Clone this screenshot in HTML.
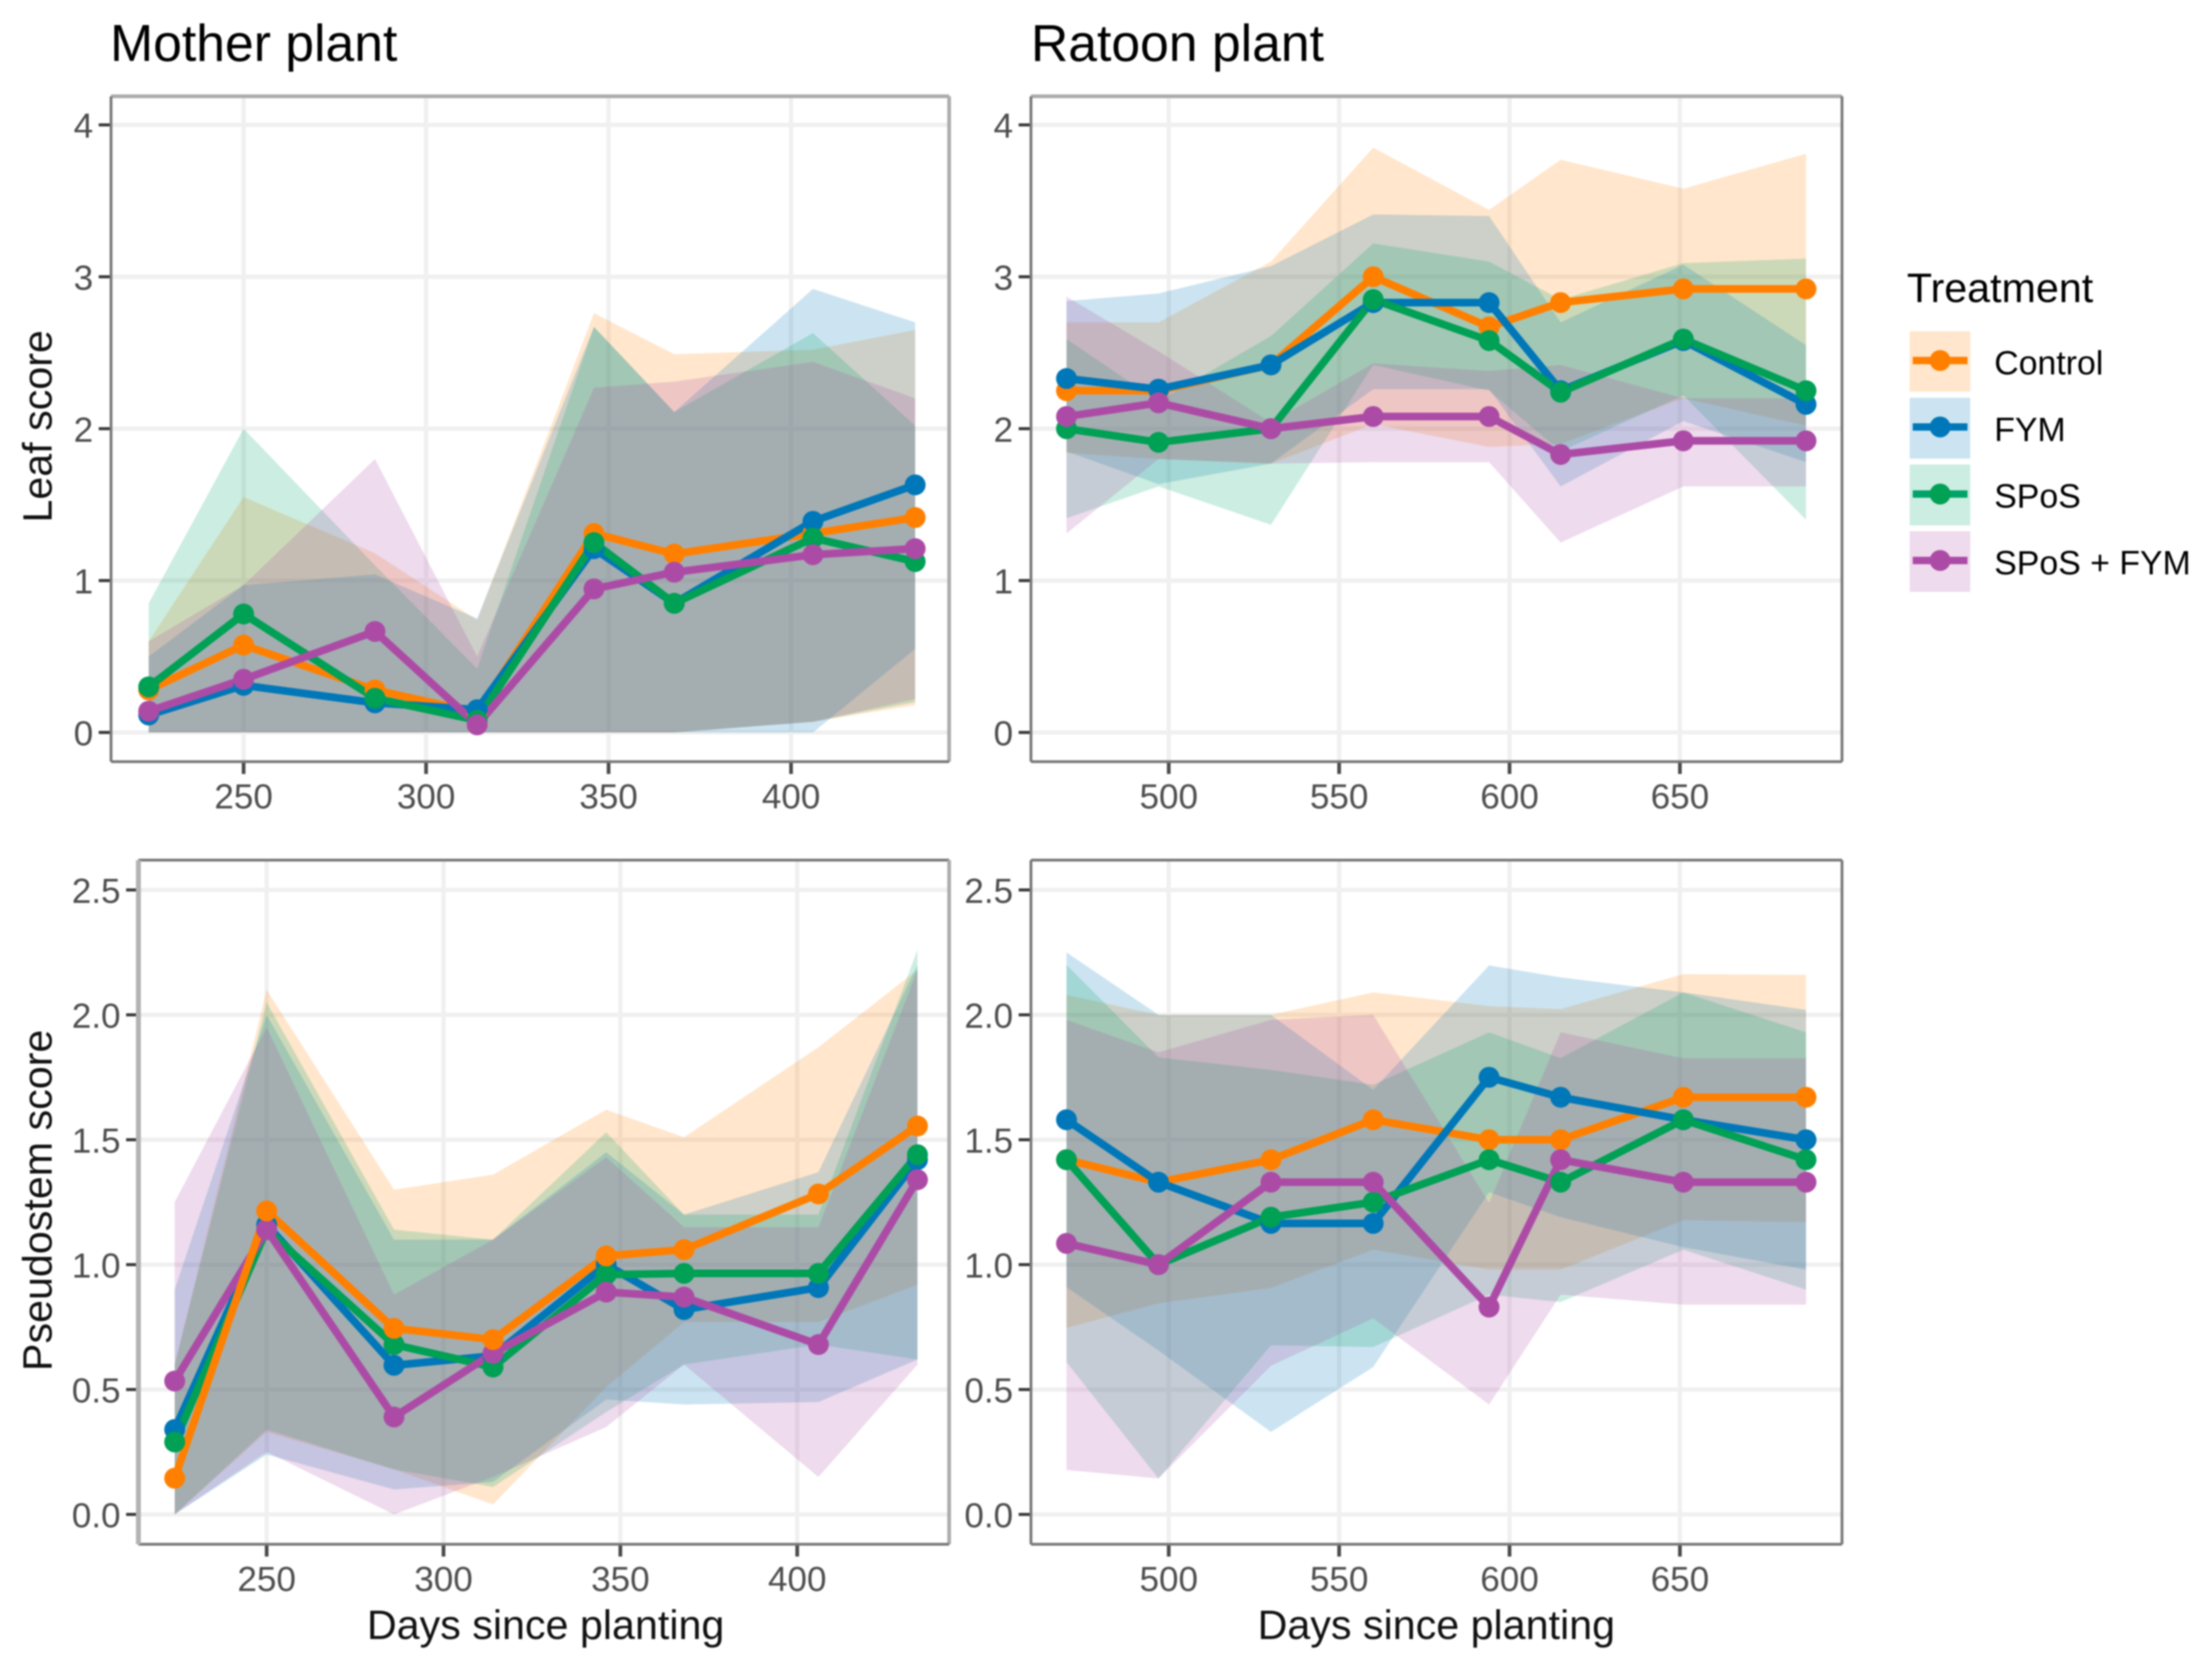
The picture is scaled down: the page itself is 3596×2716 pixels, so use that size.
<!DOCTYPE html>
<html lang="en">
<head>
<meta charset="utf-8">
<title>Leaf and pseudostem score by treatment</title>
<style>
html,body{margin:0;padding:0;background:#fff;}
svg{display:block;filter:blur(1.3px);}
text{font-family:"Liberation Sans",sans-serif;}
.tick{font-size:57px;fill:#4d4d4d;}
.atitle{font-size:67px;fill:#111;}
.ptitle{font-size:84px;fill:#000;}
.legtitle{font-size:67px;fill:#000;}
.leglabel{font-size:55px;fill:#000;}
</style>
</head>
<body>
<svg id="chart" xmlns="http://www.w3.org/2000/svg" width="3596" height="2716" viewBox="0 0 3596 2716">
  <rect x="0" y="0" width="3596" height="2716" fill="#ffffff"/>
  <text class="ptitle" x="179" y="99">Mother plant</text>
  <text class="ptitle" x="1676" y="99">Ratoon plant</text>
  <text class="atitle" text-anchor="middle" transform="translate(84,693) rotate(-90)">Leaf score</text>
  <text class="atitle" text-anchor="middle" transform="translate(84,1951) rotate(-90)">Pseudostem score</text>
  <text class="atitle" text-anchor="middle" x="887" y="2664">Days since planting</text>
  <text class="atitle" text-anchor="middle" x="2335" y="2664">Days since planting</text>
  <g id="panels"></g>
  <g>
    <text class="legtitle" x="3100" y="491">Treatment</text>
    <g>
      <rect x="3104.5" y="538.5" width="98.5" height="98" fill="#FF8000" fill-opacity="0.2"/>
      <line x1="3109.5" x2="3198.5" y1="586" y2="586" stroke="#FF8000" stroke-width="12"/>
      <circle cx="3154" cy="586" r="17" fill="#FF8000"/>
      <text class="leglabel" x="3242" y="608.5">Control</text>
    </g>
    <g>
      <rect x="3104.5" y="646.5" width="98.5" height="99" fill="#0077B8" fill-opacity="0.2"/>
      <line x1="3109.5" x2="3198.5" y1="694" y2="694" stroke="#0077B8" stroke-width="12"/>
      <circle cx="3154" cy="694" r="17" fill="#0077B8"/>
      <text class="leglabel" x="3242" y="717">FYM</text>
    </g>
    <g>
      <rect x="3104.5" y="755" width="98.5" height="99" fill="#00A368" fill-opacity="0.2"/>
      <line x1="3109.5" x2="3198.5" y1="803" y2="803" stroke="#00A368" stroke-width="12"/>
      <circle cx="3154" cy="803" r="17" fill="#00A055"/>
      <text class="leglabel" x="3242" y="825">SPoS</text>
    </g>
    <g>
      <rect x="3104.5" y="863.5" width="98.5" height="98.5" fill="#AC4BA6" fill-opacity="0.2"/>
      <line x1="3109.5" x2="3198.5" y1="911" y2="911" stroke="#AC4BA6" stroke-width="12"/>
      <circle cx="3154" cy="911" r="17" fill="#AC4BA6"/>
      <text class="leglabel" x="3242" y="933.5">SPoS + FYM</text>
    </g>
  </g>
</svg>
<script>
// Sampling days
const motherDays = [224, 250, 286, 314, 346, 368, 406, 434];
const ratoonDays = [470, 497, 530, 560, 594, 615, 651, 687];

// Tick labels
const motherXTicks = [250, 300, 350, 400];
const ratoonXTicks = [500, 550, 600, 650];
const leafYTicks = ["0", "1", "2", "3", "4"];
const pseudoYTicks = ["0.0", "0.5", "1.0", "1.5", "2.0", "2.5"];

// Treatments
const treatmentNames = ["control", "fym", "spos", "spos-fym"];

// Leaf score, mother plant
const leafMotherControlMean = [0.28, 0.575, 0.28, 0.13, 1.31, 1.175, 1.31, 1.415];
const leafMotherControlUpper = [0.6, 1.55, 1.18, 0.74, 2.76, 2.49, 2.52, 2.65];
const leafMotherControlLower = [0, 0, 0, 0, 0, 0, 0.07, 0.18];
const leafMotherFymMean = [0.115, 0.31, 0.195, 0.15, 1.21, 0.85, 1.39, 1.63];
const leafMotherFymUpper = [0.5, 0.97, 1.04, 0.75, 2.67, 2.11, 2.92, 2.7];
const leafMotherFymLower = [0, 0, 0, 0, 0, 0, 0, 0.55];
const leafMotherSposMean = [0.3, 0.78, 0.225, 0.08, 1.25, 0.85, 1.28, 1.125];
const leafMotherSposUpper = [0.85, 2.0, 1.1, 0.42, 2.67, 2.11, 2.63, 2.02];
const leafMotherSposLower = [0, 0, 0, 0, 0, 0, 0.07, 0.2];
const leafMotherComboMean = [0.14, 0.35, 0.665, 0.05, 0.945, 1.055, 1.17, 1.21];
const leafMotherComboUpper = [0.6, 0.97, 1.8, 0.5, 2.27, 2.31, 2.44, 2.2];
const leafMotherComboLower = [0, 0, 0, 0, 0, 0, 0.07, 0.22];

// Leaf score, ratoon plant
const leafRatoonControlMean = [2.25, 2.25, 2.42, 3.0, 2.67, 2.83, 2.92, 2.92];
const leafRatoonControlUpper = [2.7, 2.7, 3.1, 3.85, 3.44, 3.77, 3.58, 3.81];
const leafRatoonControlLower = [1.84, 1.8, 1.77, 2.03, 1.88, 1.9, 2.2, 2.02];
const leafRatoonFymMean = [2.33, 2.26, 2.42, 2.83, 2.83, 2.25, 2.58, 2.16];
const leafRatoonFymUpper = [2.84, 2.89, 3.07, 3.41, 3.4, 2.7, 3.08, 2.55];
const leafRatoonFymLower = [1.85, 1.635, 1.77, 2.26, 2.26, 1.62, 2.05, 1.78];
const leafRatoonSposMean = [2.0, 1.91, 2.0, 2.85, 2.58, 2.24, 2.59, 2.25];
const leafRatoonSposUpper = [2.59, 2.18, 2.61, 3.22, 3.1, 2.85, 3.09, 3.12];
const leafRatoonSposLower = [1.41, 1.62, 1.367, 2.42, 2.25, 1.85, 2.22, 1.4];
const leafRatoonComboMean = [2.08, 2.17, 2.0, 2.08, 2.08, 1.83, 1.92, 1.92];
const leafRatoonComboUpper = [2.87, 2.51, 2.04, 2.43, 2.38, 2.42, 2.2, 2.2];
const leafRatoonComboLower = [1.31, 1.8, 1.77, 1.78, 1.78, 1.25, 1.62, 1.62];

// Pseudostem score, mother plant
const pseudoMotherControlMean = [0.145, 1.215, 0.745, 0.7, 1.035, 1.06, 1.283, 1.555];
const pseudoMotherControlUpper = [0.6, 2.1, 1.3, 1.36, 1.62, 1.51, 1.87, 2.18];
const pseudoMotherControlLower = [0, 0.33, 0.18, 0.04, 0.51, 0.77, 0.77, 0.92];
const pseudoMotherFymMean = [0.34, 1.16, 0.597, 0.635, 1.0, 0.82, 0.908, 1.42];
const pseudoMotherFymUpper = [0.9, 2.0, 1.1, 1.1, 1.45, 1.2, 1.37, 2.2];
const pseudoMotherFymLower = [0, 0.24, 0.1, 0.13, 0.46, 0.44, 0.45, 0.62];
const pseudoMotherSposMean = [0.29, 1.14, 0.68, 0.59, 0.96, 0.965, 0.965, 1.44];
const pseudoMotherSposUpper = [0.6, 2.05, 1.14, 1.1, 1.53, 1.2, 1.2, 2.26];
const pseudoMotherSposLower = [0, 0.34, 0.18, 0.11, 0.41, 0.6, 0.68, 0.62];
const pseudoMotherComboMean = [0.534, 1.14, 0.39, 0.645, 0.89, 0.87, 0.68, 1.34];
const pseudoMotherComboUpper = [1.25, 1.95, 0.88, 1.1, 1.43, 1.15, 1.15, 2.18];
const pseudoMotherComboLower = [0, 0.25, 0, 0.15, 0.35, 0.6, 0.15, 0.6];

// Pseudostem score, ratoon plant
const pseudoRatoonControlMean = [1.42, 1.33, 1.42, 1.58, 1.5, 1.5, 1.67, 1.67];
const pseudoRatoonControlUpper = [2.08, 2.0, 2.0, 2.09, 2.035, 2.023, 2.163, 2.16];
const pseudoRatoonControlLower = [0.747, 0.845, 0.907, 1.06, 0.98, 0.98, 1.178, 1.17];
const pseudoRatoonFymMean = [1.58, 1.33, 1.165, 1.165, 1.75, 1.67, 1.58, 1.5];
const pseudoRatoonFymUpper = [2.25, 2.0, 2.0, 1.7, 2.198, 2.15, 2.09, 2.02];
const pseudoRatoonFymLower = [0.91, 0.656, 0.33, 0.59, 1.29, 1.19, 1.07, 0.98];
const pseudoRatoonSposMean = [1.42, 1.0, 1.19, 1.25, 1.42, 1.33, 1.58, 1.42];
const pseudoRatoonSposUpper = [2.2, 1.83, 1.78, 1.72, 1.93, 1.827, 2.09, 1.93];
const pseudoRatoonSposLower = [0.61, 0.144, 0.677, 0.67, 0.88, 0.85, 1.06, 0.9];
const pseudoRatoonComboMean = [1.085, 1.0, 1.33, 1.33, 0.83, 1.42, 1.33, 1.33];
const pseudoRatoonComboUpper = [1.98, 1.85, 1.98, 2.0, 1.247, 1.93, 1.826, 1.826];
const pseudoRatoonComboLower = [0.178, 0.144, 0.595, 0.785, 0.44, 0.88, 0.84, 0.84];

const SVG_NS = "http://www.w3.org/2000/svg";
const fillColors = ["#FF8000", "#0077B8", "#00A368", "#AC4BA6"];
const lineColors = ["#FF8000", "#0077B8", "#00A055", "#AC4BA6"];

function scaleLinear(d0, d1, r0, r1) {
  return function (v) { return r0 + (v - d0) * (r1 - r0) / (d1 - d0); };
}

function make(tag, attrs, parent) {
  const el = document.createElementNS(SVG_NS, tag);
  for (const key in attrs) el.setAttribute(key, attrs[key]);
  parent.appendChild(el);
  return el;
}

function drawPanel(p) {
  const root = document.getElementById("panels");
  const g = make("g", {}, root);
  
  
  const x = scaleLinear(p.xd0, p.xd1, p.xr0, p.xr1);
  const y = scaleLinear(p.yd0, p.yd1, p.yr0, p.yr1);

  const bg = make("rect", { x: p.left, y: p.top, width: p.right - p.left, height: p.bottom - p.top, fill: "#ffffff" }, g);
  
  

  p.yTicks.forEach(function (t) {
    const v = parseFloat(t);
    const grid = make("line", { x1: p.left, x2: p.right, y1: y(v), y2: y(v), stroke: "#f0f0f0", "stroke-width": 7 }, g);
    
    
    const mark = make("line", { x1: p.left - 20, x2: p.left - 2, y1: y(v), y2: y(v), stroke: "#3a3a3a", "stroke-width": 5 }, g);
    
    
    const label = make("text", { x: p.left - 29, y: y(v) + 21, "text-anchor": "end", "class": "tick" }, g);
    
    
    label.textContent = t;
  });

  p.xTicks.forEach(function (t) {
    const grid = make("line", { x1: x(t), x2: x(t), y1: p.top, y2: p.bottom, stroke: "#f0f0f0", "stroke-width": 7 }, g);
    
    
    const mark = make("line", { x1: x(t), x2: x(t), y1: p.bottom + 2, y2: p.bottom + 20, stroke: "#4a4a4a", "stroke-width": 6 }, g);
    
    
    const label = make("text", { x: x(t), y: p.bottom + 76, "text-anchor": "middle", "class": "tick" }, g);
    
    
    label.textContent = t;
  });

  p.series.forEach(function (s, i) {
    const top = p.days.map(function (d, k) { return x(d) + "," + y(s.upper[k]); });
    const bottom = p.days.map(function (d, k) { return x(d) + "," + y(s.lower[k]); }).reverse();
    const ribbon = make("polygon", { points: top.concat(bottom).join(" "), fill: fillColors[i], "fill-opacity": 0.2 }, g);
    
    
  });

  p.order.forEach(function (i) {
    const s = p.series[i];
    const pts = p.days.map(function (d, k) { return x(d) + "," + y(s.mean[k]); }).join(" ");
    const line = make("polyline", { points: pts, fill: "none", stroke: lineColors[i], "stroke-width": 12.5, "stroke-linejoin": "round" }, g);
    
    
  });

  p.order.forEach(function (i) {
    const s = p.series[i];
    p.days.forEach(function (d, k) {
      const point = make("circle", { cx: x(d), cy: y(s.mean[k]), r: 17, fill: lineColors[i] }, g);
      
      
    });
  });

  const sides = [
    [p.left, p.top, p.right, p.top, p.border.top],
    [p.right, p.top, p.right, p.bottom, p.border.right],
    [p.left, p.bottom, p.right, p.bottom, p.border.bottom],
    [p.left, p.top, p.left, p.bottom, p.border.left]
  ];
  sides.forEach(function (b) {
    const edge = make("line", { x1: b[0], y1: b[1], x2: b[2], y2: b[3], stroke: b[4][0], "stroke-width": b[4][1] }, g);
    
    
  });
}

const darkEdge = ["#777777", 4.5];
const lightEdge = ["#ababab", 6];
const paleEdge = ["#b2b2b2", 8];

drawPanel({
  key: "leaf-mother", days: motherDays, xTicks: motherXTicks, yTicks: leafYTicks,
  left: 180.5, right: 1543, top: 156.5, bottom: 1238,
  xd0: 250, xd1: 400, xr0: 396, xr1: 1286, yd0: 0, yd1: 4, yr0: 1190.5, yr1: 203,
  order: [0, 1, 2, 3],
  border: { top: lightEdge, right: lightEdge, bottom: darkEdge, left: darkEdge },
  series: [
    { mean: leafMotherControlMean, upper: leafMotherControlUpper, lower: leafMotherControlLower },
    { mean: leafMotherFymMean, upper: leafMotherFymUpper, lower: leafMotherFymLower },
    { mean: leafMotherSposMean, upper: leafMotherSposUpper, lower: leafMotherSposLower },
    { mean: leafMotherComboMean, upper: leafMotherComboUpper, lower: leafMotherComboLower }
  ]
});

drawPanel({
  key: "leaf-ratoon", days: ratoonDays, xTicks: ratoonXTicks, yTicks: leafYTicks,
  left: 1676, right: 2994.5, top: 156.5, bottom: 1238,
  xd0: 500, xd1: 650, xr0: 1900, xr1: 2731, yd0: 0, yd1: 4, yr0: 1190.5, yr1: 203,
  order: [0, 1, 2, 3],
  border: { top: lightEdge, right: darkEdge, bottom: darkEdge, left: darkEdge },
  series: [
    { mean: leafRatoonControlMean, upper: leafRatoonControlUpper, lower: leafRatoonControlLower },
    { mean: leafRatoonFymMean, upper: leafRatoonFymUpper, lower: leafRatoonFymLower },
    { mean: leafRatoonSposMean, upper: leafRatoonSposUpper, lower: leafRatoonSposLower },
    { mean: leafRatoonComboMean, upper: leafRatoonComboUpper, lower: leafRatoonComboLower }
  ]
});

drawPanel({
  key: "pseudostem-mother", days: motherDays, xTicks: motherXTicks, yTicks: pseudoYTicks,
  left: 225, right: 1543, top: 1398, bottom: 2510,
  xd0: 250, xd1: 400, xr0: 433.5, xr1: 1296, yd0: 0, yd1: 2.5, yr0: 2461.5, yr1: 1446.5,
  order: [1, 2, 3, 0],
  border: { top: darkEdge, right: lightEdge, bottom: darkEdge, left: paleEdge },
  series: [
    { mean: pseudoMotherControlMean, upper: pseudoMotherControlUpper, lower: pseudoMotherControlLower },
    { mean: pseudoMotherFymMean, upper: pseudoMotherFymUpper, lower: pseudoMotherFymLower },
    { mean: pseudoMotherSposMean, upper: pseudoMotherSposUpper, lower: pseudoMotherSposLower },
    { mean: pseudoMotherComboMean, upper: pseudoMotherComboUpper, lower: pseudoMotherComboLower }
  ]
});

drawPanel({
  key: "pseudostem-ratoon", days: ratoonDays, xTicks: ratoonXTicks, yTicks: pseudoYTicks,
  left: 1676, right: 2994.5, top: 1398, bottom: 2510,
  xd0: 500, xd1: 650, xr0: 1900, xr1: 2731, yd0: 0, yd1: 2.5, yr0: 2461.5, yr1: 1446.5,
  order: [0, 1, 2, 3],
  border: { top: darkEdge, right: darkEdge, bottom: darkEdge, left: darkEdge },
  series: [
    { mean: pseudoRatoonControlMean, upper: pseudoRatoonControlUpper, lower: pseudoRatoonControlLower },
    { mean: pseudoRatoonFymMean, upper: pseudoRatoonFymUpper, lower: pseudoRatoonFymLower },
    { mean: pseudoRatoonSposMean, upper: pseudoRatoonSposUpper, lower: pseudoRatoonSposLower },
    { mean: pseudoRatoonComboMean, upper: pseudoRatoonComboUpper, lower: pseudoRatoonComboLower }
  ]
});
</script>
</body>
</html>
